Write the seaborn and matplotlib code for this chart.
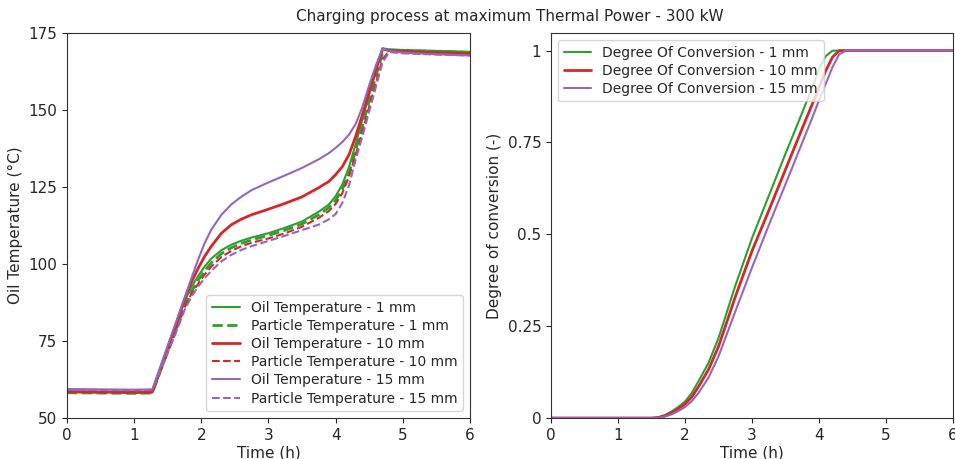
import numpy as np
import pandas as pd
import matplotlib
matplotlib.use("Agg")
import matplotlib.pyplot as plt
import seaborn as sns

# ---------------- data ----------------
time_temp = [0, 0.5, 1.0, 1.27, 1.6, 1.75, 1.85, 1.95, 2.05, 2.15, 2.3, 2.45, 2.6, 2.75,
             3.0, 3.25, 3.5, 3.75, 3.9, 4.0, 4.1, 4.2, 4.3, 4.4, 4.5, 4.6, 4.7, 4.8,
             5.0, 5.5, 6.0]
oil_1mm = [58.4, 58.3, 58.2, 58.3, 78.8, 88.0, 92.5, 96.0, 99.2, 101.8, 104.5, 106.3, 107.6,
           108.6, 110.0, 111.8, 113.8, 117.0, 119.3, 122.0, 125.8, 131.5, 139.0, 147.0, 155.0,
           162.5, 170.0, 169.7, 169.5, 169.2, 168.9]
part_1mm = [58.2, 58.1, 58.0, 58.1, 77.5, 86.5, 91.0, 94.6, 97.8, 100.4, 103.4, 105.3, 106.7,
            107.8, 109.3, 111.0, 113.0, 116.0, 118.3, 120.7, 124.2, 129.5, 137.0, 145.0, 153.0,
            161.0, 168.5, 169.4, 169.3, 169.0, 168.7]
oil_10mm = [58.6, 58.5, 58.4, 58.5, 79.0, 88.5, 94.0, 98.5, 102.5, 105.8, 110.0, 112.8, 114.6,
            116.0, 117.8, 119.7, 121.8, 124.8, 126.8, 129.0, 131.6, 135.5, 141.5, 148.5, 156.0,
            163.0, 169.8, 169.3, 169.0, 168.6, 168.3]
part_10mm = [58.4, 58.3, 58.2, 58.3, 77.0, 85.8, 90.2, 93.5, 96.6, 99.2, 102.3, 104.3, 105.8,
             106.9, 108.3, 110.0, 112.1, 115.0, 117.2, 119.5, 123.0, 128.5, 135.5, 143.0, 151.0,
             158.8, 166.5, 169.2, 169.0, 168.6, 168.3]
oil_15mm = [59.4, 59.3, 59.2, 59.3, 79.7, 89.0, 95.2, 101.3, 106.8, 111.2, 116.0, 119.4, 121.9,
            124.0, 126.5, 128.8, 131.2, 134.0, 136.0, 137.7, 139.6, 142.0, 145.5, 151.0, 158.0,
            164.5, 170.0, 169.2, 168.6, 168.1, 167.7]
part_15mm = [59.2, 59.1, 59.0, 59.1, 76.5, 85.0, 89.3, 92.6, 95.4, 97.8, 100.9, 103.0, 104.6,
             105.8, 107.5, 109.2, 111.0, 112.8, 114.5, 116.2, 119.8, 125.5, 134.0, 141.5, 149.5,
             157.5, 165.5, 168.8, 168.4, 168.0, 167.7]

time_conv = [0, 1.0, 1.5, 1.6, 1.7, 1.8, 1.9, 2.0, 2.1, 2.2, 2.35, 2.5, 2.75, 3.0, 3.25, 3.5,
             3.75, 3.9, 4.0, 4.1, 4.2, 4.3, 4.4, 5.0, 6.0]
conv_1mm = [0, 0, 0, 0.002, 0.008, 0.018, 0.03, 0.045, 0.068, 0.1, 0.15, 0.218, 0.36, 0.49,
            0.605, 0.72, 0.832, 0.9, 0.95, 0.985, 1.0, 1.0, 1.0, 1.0, 1.0]
conv_10mm = [0, 0, 0, 0.001, 0.006, 0.014, 0.025, 0.038, 0.057, 0.085, 0.132, 0.195, 0.33, 0.455,
             0.565, 0.677, 0.789, 0.855, 0.9, 0.945, 0.982, 1.0, 1.0, 1.0, 1.0]
conv_15mm = [0, 0, 0, 0.0, 0.004, 0.01, 0.019, 0.03, 0.046, 0.068, 0.11, 0.168, 0.29, 0.41,
             0.525, 0.637, 0.75, 0.818, 0.865, 0.91, 0.955, 0.99, 1.0, 1.0, 1.0]

temp_labels = ["Oil Temperature - 1 mm", "Particle Temperature - 1 mm",
               "Oil Temperature - 10 mm", "Particle Temperature - 10 mm",
               "Oil Temperature - 15 mm", "Particle Temperature - 15 mm"]
conv_labels = ["Degree Of Conversion - 1 mm", "Degree Of Conversion - 10 mm",
               "Degree Of Conversion - 15 mm"]
x_ticks = [0, 1, 2, 3, 4, 5, 6]
temp_ticks = [50, 75, 100, 125, 150, 175]
conv_ticks = [0, 0.25, 0.5, 0.75, 1]
conv_tick_labels = ["0", "0.25", "0.5", "0.75", "1"]
title = "Charging process at maximum Thermal Power - 300 kW"

# ---------------- style ----------------
sns.set_style("ticks")
plt.rcParams['font.family'] = ['DejaVu Sans']

GREEN, RED, PURPLE = "#2ca02c", "#d62728", "#9467bd"

fig = plt.figure(figsize=(9.55, 4.59), dpi=100)
ax1 = fig.add_axes([0.0702, 0.0893, 0.4218, 0.8388])
ax2 = fig.add_axes([0.577, 0.0893, 0.421, 0.8388])

temp_series = [oil_1mm, part_1mm, oil_10mm, part_10mm, oil_15mm, part_15mm]
temp_colors = [GREEN, GREEN, RED, RED, PURPLE, PURPLE]
temp_styles = ["-", "--", "-", "--", "-", "--"]
temp_widths = [1.5, 2.0, 2.0, 1.5, 1.5, 1.5]

for vals, lab, c, ls, lw in zip(temp_series, temp_labels, temp_colors, temp_styles, temp_widths):
    df = pd.DataFrame({"t": time_temp, "v": vals})
    sns.lineplot(data=df, x="t", y="v", ax=ax1, color=c, linestyle=ls, linewidth=lw,
                 label=lab, sort=False, estimator=None)

conv_series = [conv_1mm, conv_10mm, conv_15mm]
conv_colors = [GREEN, RED, PURPLE]
conv_widths = [1.5, 2.0, 1.5]
for vals, lab, c, lw in zip(conv_series, conv_labels, conv_colors, conv_widths):
    df = pd.DataFrame({"t": time_conv, "v": vals})
    sns.lineplot(data=df, x="t", y="v", ax=ax2, color=c, linewidth=lw,
                 label=lab, sort=False, estimator=None)

for ax in (ax1, ax2):
    ax.set_xlim(0, 6)
    ax.set_xticks(x_ticks)
    ax.tick_params(labelsize=11, length=3.5, width=0.8)
    ax.set_xlabel("Time (h)", fontsize=11, labelpad=2)
    for s in ax.spines.values():
        s.set_visible(True)
        s.set_linewidth(0.8)
        s.set_color("#333333")

ax1.set_ylim(50, 175)
ax1.set_yticks(temp_ticks)
ax1.set_ylabel("Oil Temperature (°C)", fontsize=11, labelpad=4)
ax2.set_ylim(0, 1.048)
ax2.set_yticks(conv_ticks, labels=conv_tick_labels)
ax2.set_ylabel("Degree of conversion (-)", fontsize=11, labelpad=4)

ax1.legend(loc="lower right", fontsize=10, frameon=True, handlelength=2.0, labelspacing=0.3)
ax2.legend(loc="upper left", fontsize=10, frameon=True, handlelength=2.0, labelspacing=0.3)

fig.suptitle(title, x=0.534, y=0.963, va="center", fontsize=11)

fig.savefig("out.png", dpi=100)
